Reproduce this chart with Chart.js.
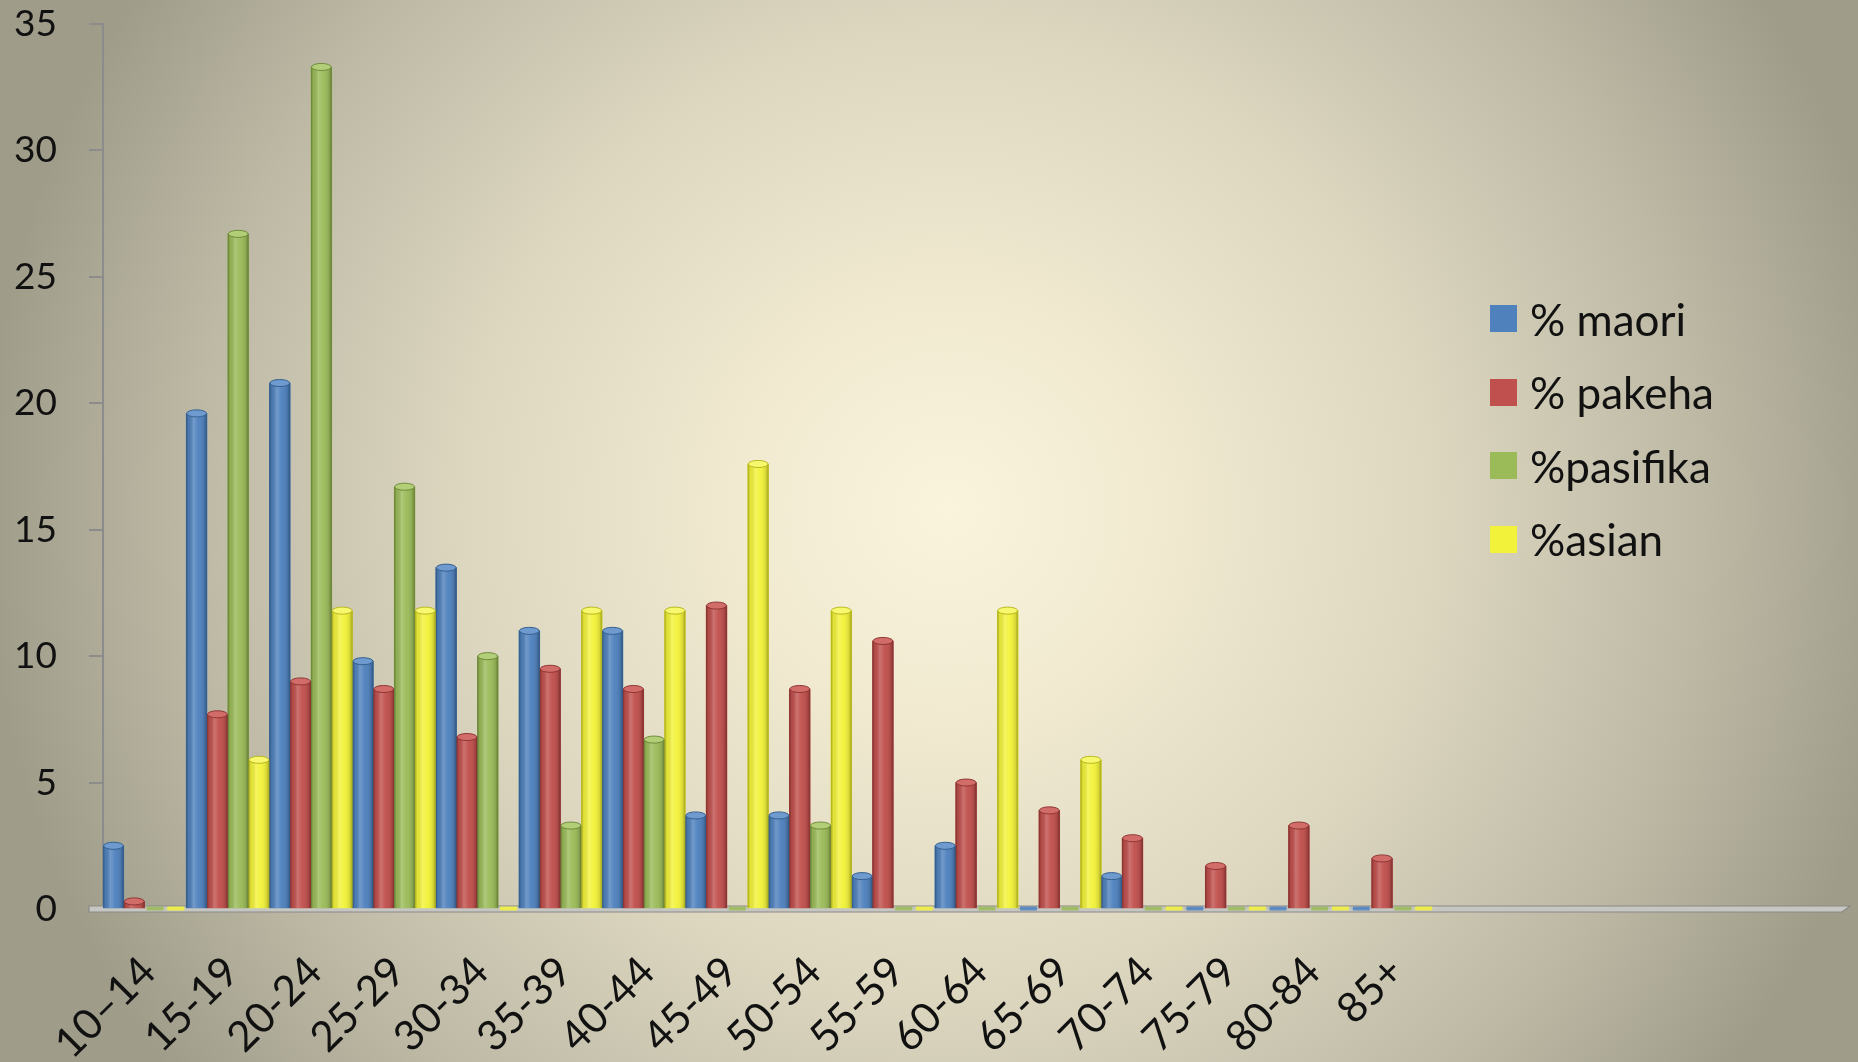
<!DOCTYPE html>
<html>
<head>
<meta charset="utf-8">
<title>Age distribution by ethnicity</title>
<script src="https://cdn.jsdelivr.net/npm/chart.js@4.4.1/dist/chart.umd.min.js"></script>
<style>
  html, body { margin: 0; padding: 0; width: 1858px; height: 1062px; overflow: hidden; }
  body {
    background: radial-gradient(ellipse 52% 90% at 51% 48%,
      #faf4dd 0%, #f1ead1 22%, #ddd7c0 50%, #bdb9a5 78%, #9f9c8a 100%);
  }
  #wrap { position: relative; width: 1858px; height: 1062px; }
  #legend { position: absolute; left: 1490px; top: 282px; font-family: Lato, sans-serif; font-size: 44px; color: #111; }
  .item { display: flex; align-items: center; height: 73.5px; white-space: pre; }
  .sw { width: 27px; height: 27px; margin-right: 13px; flex: none; }
</style>
</head>
<body>
<div id="wrap">
  <canvas id="chart" width="1858" height="1062"></canvas>
  <div id="legend"></div>
</div>
<script>
// Age groups (trailing blanks keep the empty floor to the right)
const categories = ['10–14', '15-19', '20-24', '25-29', '30-34', '35-39', '40-44', '45-49',
                    '50-54', '55-59', '60-64', '65-69', '70-74', '75-79', '80-84', '85+',
                    '', '', '', '', ''];

// Percentage of each group falling in every age band
const maori    = [2.5, 19.6, 20.8, 9.8, 13.5, 11.0, 11.0, 3.7, 3.7, 1.3, 2.5, 0, 1.3, 0, 0, 0];
const pakeha   = [0.3, 7.7, 9.0, 8.7, 6.8, 9.5, 8.7, 12.0, 8.7, 10.6, 5.0, 3.9, 2.8, 1.7, 3.3, 2.0];
const pasifika = [0, 26.7, 33.3, 16.7, 10.0, 3.3, 6.7, 0, 3.3, 0, 0, 0, 0, 0, 0, 0];
const asian    = [0, 5.9, 11.8, 11.8, 0, 11.8, 11.8, 17.6, 11.8, 0, 11.8, 5.9, 0, 0, 0, 0];

const seriesNames  = ['% maori', '% pakeha', '%pasifika', '%asian'];
const seriesColors = ['#4f81bd', '#c0504d', '#9bbb59', '#f2f23a'];
const capColors    = ['#6f9ad0', '#d26c69', '#b2cf78', '#f8f86e'];
const edgeColors   = ['#35618f', '#8f3634', '#6f8a3c', '#b8b820'];
const yTicks = [0, 5, 10, 15, 20, 25, 30, 35];

const seriesValues = [maori, pakeha, pasifika, asian];

// Floor slab under the bars and cylinder shading on every bar
const cylinderPlugin = {
  id: 'cylinders',
  beforeDatasetsDraw(chart) {
    const { ctx } = chart;
    const xs = chart.scales.x, ys = chart.scales.y;
    const y0 = ys.getPixelForValue(0);
    const l = xs.left - 14, r = xs.right;
    ctx.save();
    ctx.beginPath();
    ctx.moveTo(l, y0 - 3);
    ctx.lineTo(r, y0 - 3);
    ctx.lineTo(r - 8, y0 + 3);
    ctx.lineTo(l, y0 + 3);
    ctx.closePath();
    ctx.fillStyle = '#c6c6c2';
    ctx.fill();
    ctx.lineWidth = 1.2;
    ctx.strokeStyle = '#8a8a86';
    ctx.stroke();
    ctx.restore();
  },
  afterDatasetsDraw(chart) {
    const { ctx } = chart;
    ctx.save();
    chart.data.datasets.forEach((ds, di) => {
      const meta = chart.getDatasetMeta(di);
      if (meta.hidden) return;
      meta.data.forEach((bar, i) => {
        const v = ds.data[i];
        if (v === undefined || v === null) return;
        const { x, y, base, width } = bar.getProps(['x', 'y', 'base', 'width'], true);
        const l = x - width / 2, r = x + width / 2;
        const ry = width * 0.17;
        if (v === 0) {
          // empty value: a flat disc lying on the floor
          ctx.fillStyle = seriesColors[di];
          ctx.globalAlpha = 0.85;
          ctx.fillRect(l + 2, base - 2.5, width - 4, 4);
          ctx.globalAlpha = 1;
          return;
        }
        // round body shading
        const g = ctx.createLinearGradient(l, 0, r, 0);
        g.addColorStop(0, 'rgba(0,0,0,0.30)');
        g.addColorStop(0.12, 'rgba(0,0,0,0.06)');
        g.addColorStop(0.35, 'rgba(255,255,255,0.20)');
        g.addColorStop(0.6, 'rgba(255,255,255,0.03)');
        g.addColorStop(0.88, 'rgba(0,0,0,0.12)');
        g.addColorStop(1, 'rgba(0,0,0,0.36)');
        ctx.fillStyle = g;
        ctx.fillRect(l, y, width, base - y);
        // side edges
        ctx.strokeStyle = edgeColors[di];
        ctx.lineWidth = 1;
        ctx.beginPath();
        ctx.moveTo(l + 0.5, y); ctx.lineTo(l + 0.5, base);
        ctx.moveTo(r - 0.5, y); ctx.lineTo(r - 0.5, base);
        ctx.stroke();
        // top cap
        ctx.beginPath();
        ctx.ellipse(x, y, width / 2 - 0.5, ry, 0, 0, Math.PI * 2);
        ctx.fillStyle = capColors[di];
        ctx.fill();
        ctx.strokeStyle = edgeColors[di];
        ctx.stroke();
      });
    });
    ctx.restore();
  }
};

const datasets = seriesNames.map((name, k) => ({
  label: name,
  data: seriesValues[k],
  backgroundColor: seriesColors[k],
  borderWidth: 0,
  barPercentage: 1.0,
  categoryPercentage: 1.0
}));

new Chart(document.getElementById('chart'), {
  type: 'bar',
  data: { labels: categories, datasets },
  options: {
    responsive: false,
    animation: false,
    layout: { padding: { top: 24, right: 8, left: 0, bottom: 0 } },
    plugins: { legend: { display: false }, tooltip: { enabled: false } },
    scales: {
      x: {
        grid: { display: false, drawTicks: false },
        border: { display: false },
        ticks: {
          autoSkip: false, minRotation: 45, maxRotation: 45,
          color: '#111', padding: 38, labelOffset: 4,
          font: { family: 'Lato', size: 42 }
        },
        afterFit(s) { s.height = 153; s.paddingLeft = 0; s.paddingRight = 0; }
      },
      y: {
        min: 0, max: 35,
        afterBuildTicks(s) { s.ticks = yTicks.map(v => ({ value: v })); },
        grid: { display: true, drawOnChartArea: false, drawTicks: true, tickLength: 14, color: '#8c8c8c', lineWidth: 2 },
        border: { display: true, color: '#8c8c8c', width: 2 },
        ticks: { color: '#111', padding: 32, font: { family: 'Lato', size: 37 } },
        afterFit(s) { s.width = 103; s.paddingTop = 0; s.paddingBottom = 0; }
      }
    }
  },
  plugins: [cylinderPlugin]
});

// Legend beside the plot
const legend = document.getElementById('legend');
seriesNames.forEach((name, k) => {
  const item = document.createElement('div');
  item.className = 'item';
  const sw = document.createElement('span');
  sw.className = 'sw';
  sw.style.background = seriesColors[k];
  const txt = document.createElement('span');
  txt.textContent = name;
  item.appendChild(sw);
  item.appendChild(txt);
  legend.appendChild(item);
});
</script>
</body>
</html>
